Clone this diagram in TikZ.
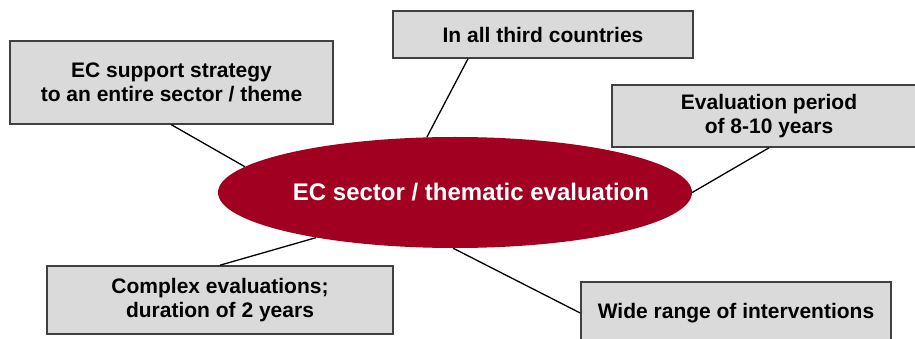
\documentclass[tikz,border=0pt]{standalone}
\usepackage{fontspec}
\setmainfont{Liberation Sans}
\usetikzlibrary{shapes.geometric}
\definecolor{boxfill}{RGB}{218,218,218}
\definecolor{boxline}{RGB}{64,64,64}
\definecolor{ecred}{RGB}{162,0,32}
\begin{document}
\begin{tikzpicture}[x=1pt,y=-1pt,
  infobox/.style={draw=boxline,line width=1.6pt,fill=boxfill,rectangle,inner sep=0pt,align=center,font=\fontsize{21}{24}\selectfont\bfseries},
  link/.style={draw=black,line width=1.3pt}]
\useasboundingbox (0,0) rectangle (915,339);
\clip (0,0) rectangle (915,339);
\node[ellipse,fill=ecred,minimum width=474pt,minimum height=111pt,inner sep=0pt,text=white,font=\fontsize{24}{28}\selectfont\bfseries] (ec) at (455,192.5) {\makebox[0pt]{\hspace*{32pt}EC sector / thematic evaluation}};
\node[infobox,minimum width=323pt,minimum height=83pt] (b1) at (171.5,82.5) {EC support strategy\\to an entire sector / theme};
\node[infobox,minimum width=300pt,minimum height=47pt] (b2) at (543,34.5) {In all third countries};
\node[infobox,minimum width=314pt,minimum height=62pt] (b3) at (769,116) {Evaluation period\\of 8-10 years};
\node[infobox,minimum width=346pt,minimum height=68pt] (b4) at (220,300) {Complex evaluations;\\duration of 2 years};
\node[infobox,minimum width=310pt,minimum height=62pt] (b5) at (736,313) {Wide range of interventions};
\draw[link] (b1.south) -- (ec.173);
\draw[link] ([xshift=-75pt]b2.south) -- (ec.117);
\draw[link] (b3.south) -- (ec.0);
\draw[link] (b4.north) -- (ec.198);
\draw[link] (b5.west) -- (ec.268);
\end{tikzpicture}
\end{document}
